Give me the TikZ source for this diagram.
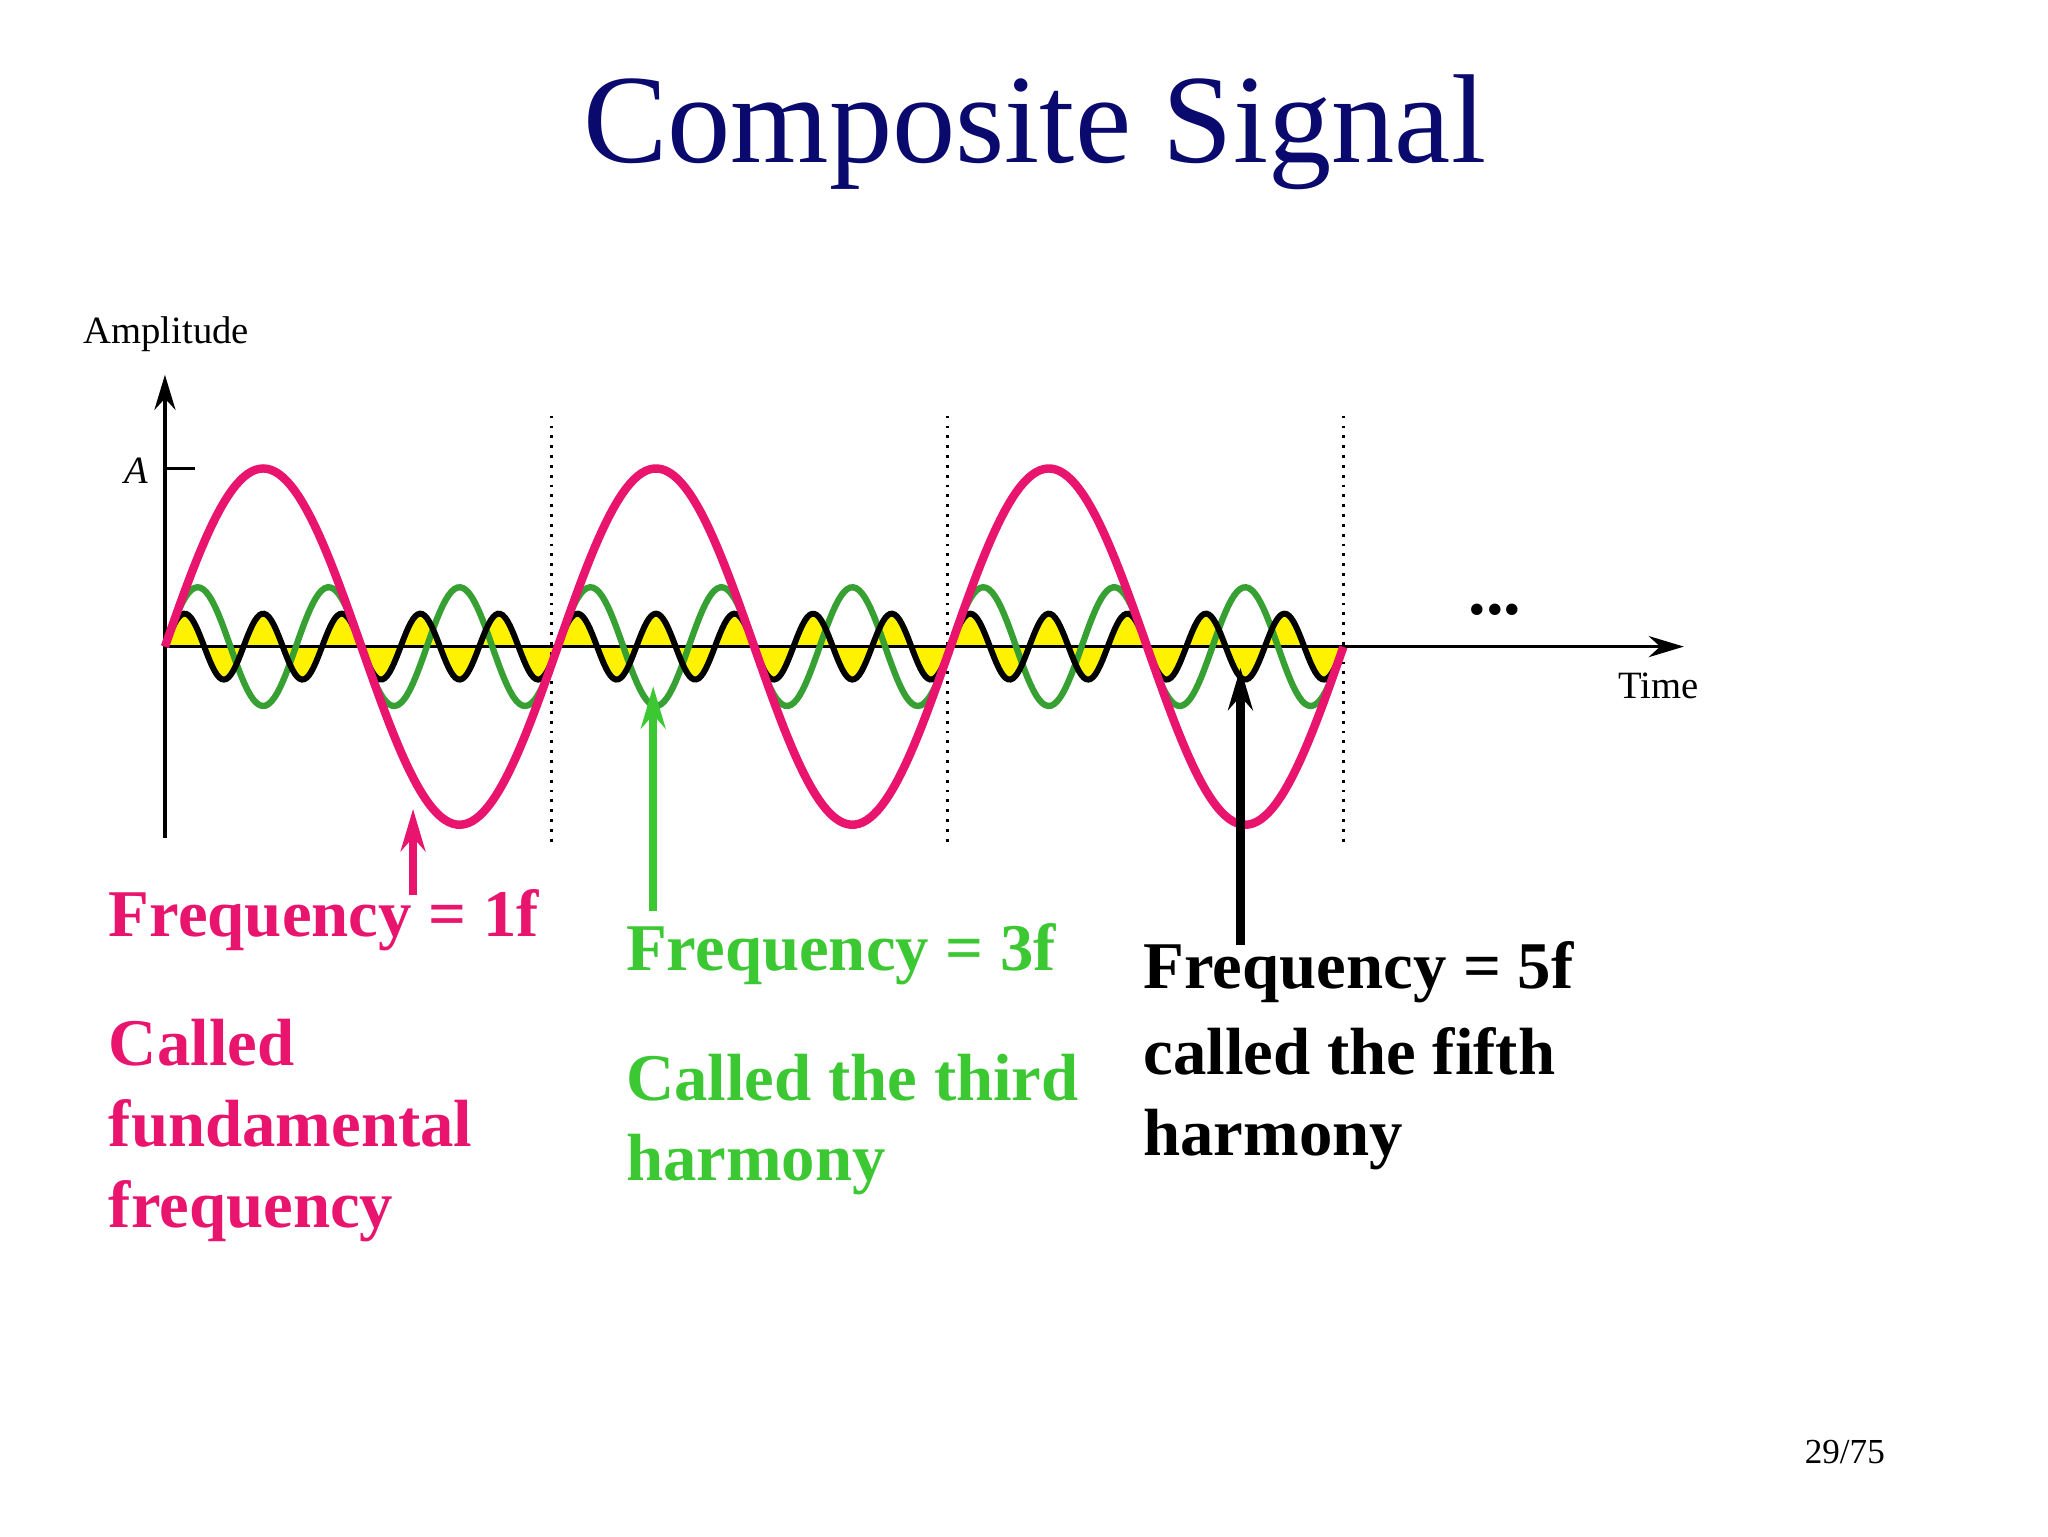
\documentclass[tikz,border=0pt]{standalone}
\usepackage{fontspec}
\setmainfont{Liberation Serif}
\usetikzlibrary{arrows.meta}
\definecolor{navy}{RGB}{10,10,110}
\definecolor{pinkc}{RGB}{232,20,110}
\definecolor{greenc}{RGB}{55,160,50}
\definecolor{greent}{RGB}{60,200,50}
\tikzset{
  lbl/.style={font=\fontsize{19}{23}\selectfont\bfseries, anchor=west, inner sep=0pt, align=left},
  pt/.style={-{Stealth[length=12pt,width=7pt]}, line width=2.4pt},
}
\begin{document}
\begin{tikzpicture}[x=0.0132cm,y=-0.0132cm]
\useasboundingbox (0,0) rectangle (1552,1164);
\node[text=navy, font=\fontsize{36}{40}\selectfont] (title) at (784,100) {Composite Signal};
% yellow fill of 5f
\fill[yellow] plot[domain=0:893,samples=500] ({125+\x},{490-25*sin(6.0464*\x)}) -- cycle;
% dotted
\foreach \xx in {418,718,1018} \draw[dotted, line width=0.8pt] (\xx,315) -- (\xx,638);
% axes
\coordinate (o) at (125,490);
\draw[line width=1pt] (125,635) -- (125,490);
\draw[-{Stealth[length=10pt,width=6pt]}, line width=1pt] (o) -- (125,284);
\draw[-{Stealth[length=10pt,width=6pt]}, line width=1pt] (o) -- (1276,490);
\draw[line width=1pt] (125,355) -- (148,355);
\node[font=\fontsize{11}{13}\selectfont] (amp) at (126,253) {Amplitude};
\node[font=\fontsize{11}{13}\selectfont\itshape] (A) at (103,357) {A};
\node[font=\fontsize{11}{13}\selectfont] (time) at (1257,520) {Time};
\node[font=\fontsize{20}{20}\selectfont\bfseries] (dots) at (1133,462) {...};
% curves
\draw[greenc, line width=1.8pt] plot[domain=0:893,samples=400] ({125+\x},{490-45*sin(3.6279*\x)});
\draw[black, line width=1.7pt] plot[domain=0:893,samples=500] ({125+\x},{490-25*sin(6.0464*\x)});
\draw[pinkc, line width=2.4pt] plot[domain=0:893,samples=300] ({125+\x},{490-135*sin(1.20927*\x)});
% labels
\node[lbl, text=pinkc] (f1) at (82,697) {Frequency = 1f};
\node[lbl, text=pinkc, anchor=north west] (c1) at (82,772) {Called\\fundamental\\frequency};
\node[lbl, text=greent] (f3) at (474,723) {Frequency = 3f};
\node[lbl, text=greent, anchor=north west] (c3) at (474,798) {Called the third\\harmony};
\node[lbl, text=black] (f5) at (866,737) {Frequency = 5f};
\node[lbl, text=black, anchor=north west] (c5) at (866,778) {called the fifth\\harmony};
% pointers
\coordinate (p1) at (313,678); \coordinate (q1) at (313,613);
\coordinate (p3) at (495,690); \coordinate (q3) at (495,520);
\coordinate (p5) at (940,716); \coordinate (q5) at (940,506);
\draw[pt, pinkc] (p1) -- (q1);
\draw[pt, greent] (p3) -- (q3);
\draw[pt, black] (p5) -- (q5);
\node[font=\fontsize{10}{12}\selectfont] (pg) at (1398,1100) {29/75};
\end{tikzpicture}
\end{document}
